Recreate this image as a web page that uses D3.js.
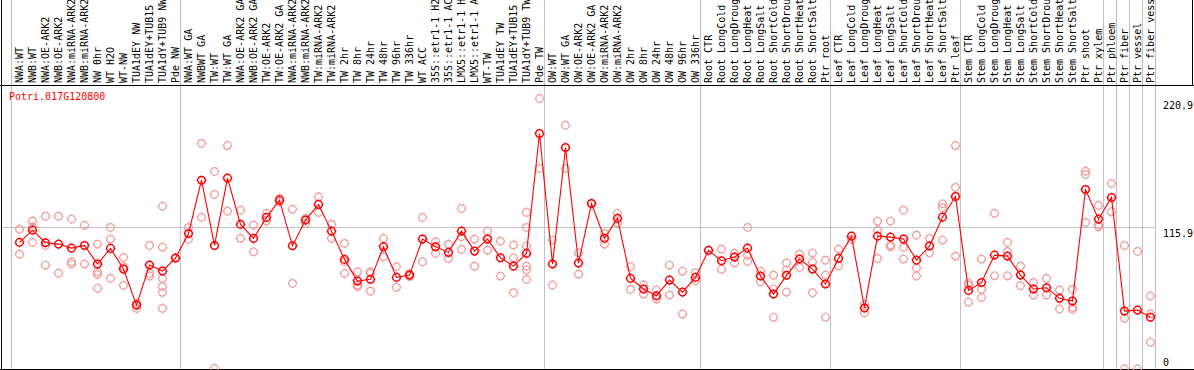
<!DOCTYPE html>
<html><head><meta charset="utf-8">
<script src="https://cdn.jsdelivr.net/npm/d3@7"></script>
<style>
html,body{margin:0;padding:0;background:#fff;}
svg{display:block;}
text{font-family:"DejaVu Sans Mono",monospace;font-size:10px;}
</style></head>
<body>
<script>
const title = "Potri.017G120800";
const labels = [
"NWA:WT","NWB:WT","NWA:OE-ARK2","NWB:OE-ARK2","NWA:miRNA-ARK2","NWB:miRNA-ARK2","NW 0hr","WT H2O","WT-NW","TUA1dEY NW","TUA1dEY+TUB15 NW","TUA1dY+TUB9 NW","Pde NW",
"NWA:WT GA","NWBWT GA","TW:WT","TW:WT GA","NWA:OE-ARK2 GA","NWB:OE-ARK2 GA","TW:OE-ARK2","TW:OE-ARK2 GA","NWA:miRNA-ARK2 GA","NWB:miRNA-ARK2 GA","TW:miRNA-ARK2","TW:miRNA-ARK2 GA","TW 2hr","TW 8hr","TW 24hr","TW 48hr","TW 96hr","TW 336hr","WT ACC","35S::etr1-1 H2O","35S::etr1-1 ACC","LMX5::etr1-1 H2O","LMX5::etr1-1 ACC","WT-TW","TUA1dEY TW","TUA1dEY+TUB15 TW","TUA1dY+TUB9 TW","Pde TW",
"OW:WT","OW:WT GA","OW:OE-ARK2","OW:OE-ARK2 GA","OW:miRNA-ARK2","OW:miRNA-ARK2 GA","OW 2hr","OW 8hr","OW 24hr","OW 48hr","OW 96hr","OW 336hr",
"Root CTR","Root LongCold","Root LongDrought","Root LongHeat","Root LongSalt","Root ShortCold","Root ShortDrought","Root ShortHeat","Root ShortSalt","Ptr root",
"Leaf CTR","Leaf LongCold","Leaf LongDrought","Leaf LongHeat","Leaf LongSalt","Leaf ShortCold","Leaf ShortDrought","Leaf ShortHeat","Leaf ShortSalt","Ptr leaf",
"Stem CTR","Stem LongCold","Stem LongDrought","Stem LongHeat","Stem LongSalt","Stem ShortCold","Stem ShortDrought","Stem ShortHeat","Stem ShortSalt","Ptr shoot","Ptr xylem",
"Ptr phloem","Ptr fiber","Ptr vessel","Ptr fiber vessel"];
const groupSizes = [13,28,12,10,10,11,1,1,1,1];
const means = [
103.4,113.4,103.1,102.0,98.7,100.9,85.7,98.5,81.6,52.2,84.9,80.0,90.6,
110.7,154.2,100.9,155.9,118.1,106.7,123.8,137.9,100.6,121.6,134.4,112.6,89.5,71.8,73.2,99.8,74.8,76.7,106.1,99.8,95.2,112.6,96.3,106.1,90.8,84.0,94.4,192.3,
85.7,180.9,86.5,135.2,106.7,123.0,74.0,65.3,59.8,72.6,62.8,74.8,
96.9,88.4,91.4,98.7,75.9,61.2,76.5,89.8,81.6,69.4,
90.3,108.5,49.8,108.5,107.7,106.1,88.9,100.4,124.0,140.9,
64.2,70.7,93.0,92.2,76.7,65.3,66.3,57.7,55.5,146.6,122.4,
140.1,47.3,48.1,42.2];
const replicates = [
[114.2,93.8],[120.8,116.1,103.4],[124.8,100.9,84.9],[124.8,78.3],[122.4,87.6,85.7],[117.5,85.7],[102.0,79.4,77.3,65.9],[115.6,106.1,74.0],[91.1,83.5,68.3],[53.6,49.5],[100.9,78.0,75.9],[133.0,99.6,74.0,67.2,62.6,49.5],[90.6],
[115.6,105.8],[184.2,123.8],[161.3,142.6,0.5],[182.5,128.9],[129.7,106.7],[117.5,95.7],[127.1,120.8],[139.3,136.5],[130.6,69.9],[123.0,118.9],[140.6,127.9],[118.1,106.7],[102.5,87.6,78.1],[79.4,68.5,67.2],[79.4,78.1,63.6],[106.7,91.6],[83.5,66.7],[78.0,75.5],[123.8,87.6],[103.9,94.4],[102.0,90.3],[131.1,108.0,97.7],[106.1,84.0],[112.6,97.1],[104.4,75.9],[101.2,90.8,62.3],[127.9,115.6,100.6,84.0,80.8,73.2],[220.9,163.8],
[105.3,68.5],[199.1,163.8],[94.9,77.5],[135.2],[110.7,102.0],[127.1,119.4],[83.5,65.0],[68.5,61.2],[64.5,57.1],[84.9,60.4],[80.0,44.9],[78.6,72.1],
[96.9],[97.9,81.4],[94.4,86.7],[115.6,93.0,87.9],[80.0,71.2],[76.7,65.3,42.2],[86.7,80.8,62.8],[93.8,83.0],[94.7,87.3,62.3],[88.9,76.7,42.2],
[97.9,84.3],[105.8],[53.0,45.9],[120.8,113.4,90.3],[120.8,101.2,99.8],[129.7,99.3,89.8],[109.3,82.7,75.9],[106.7,94.9],[134.9,131.9,105.3],[182.5,148.3,92.2],
[70.4,68.5,54.7],[89.8,65.0,58.5],[127.1,76.1],[103.4,96.0,76.1],[84.0,68.0],[70.7,60.4],[74.0,60.4],[64.5,49.0],[65.0,50.3,48.7],[161.6,158.9,119.7],[133.6,117.8,116.1],
[151.5,128.4],[100.9,41.4,0],[96.0,0],[59.6,44.9,21.8]];
const yTicks = [0, 115.9, 220.9];
const gridValues = [115.9];

const W = 1194, H = 370;
const svg = d3.select("body").append("svg").attr("width", W).attr("height", H);

const idx = d3.range(labels.length);
const x = d3.scaleBand().domain(idx).range([11, 11 + 13 * labels.length]).padding(0);
const y = d3.scaleLinear().domain([0, 220.9]).range([369, 98.5]);
const px = i => x(i) + 8.5;
const right = x.range()[1];

// group separators
const bounds = [0];
groupSizes.forEach(s => bounds.push(bounds[bounds.length - 1] + s));
svg.append("g").selectAll("line").data(bounds).join("line")
  .attr("x1", b => (b < labels.length ? x(b) : right) + 0.5)
  .attr("x2", b => (b < labels.length ? x(b) : right) + 0.5)
  .attr("y1", 0).attr("y2", 369)
  .attr("stroke", "#c0c0c0").attr("stroke-width", 1);

// horizontal grid
svg.append("g").selectAll("line").data(gridValues).join("line")
  .attr("x1", 1).attr("x2", right)
  .attr("y1", v => Math.round(y(v)) + 0.5).attr("y2", v => Math.round(y(v)) + 0.5)
  .attr("stroke", "#c0c0c0");

// frame
svg.append("line").attr("x1", 1.5).attr("x2", 1.5).attr("y1", 0).attr("y2", 370).attr("stroke", "#000");
svg.append("line").attr("x1", 0).attr("x2", W).attr("y1", 85.5).attr("y2", 85.5).attr("stroke", "#000");
svg.append("line").attr("x1", 0).attr("x2", W).attr("y1", 369.5).attr("y2", 369.5).attr("stroke", "#000");
svg.append("line").attr("x1", 1192.5).attr("x2", 1192.5).attr("y1", 0).attr("y2", 85).attr("stroke", "#000");

// category labels (long ones run past the top edge, as in the reference)
svg.append("g").selectAll("text").data(idx).join("text")
  .attr("transform", i => `translate(${x(i) + 12},83) rotate(-90)`)
  .attr("fill", "#000")
  .text(i => labels[i]);

// title
svg.append("text").attr("x", 9).attr("y", 100).attr("fill", "#ff0000").text(title);

// y tick labels (right)
svg.append("g").selectAll("text").data(yTicks).join("text")
  .attr("x", 1163)
  .attr("y", v => v === 0 ? y(v) - 3.3 : y(v) + 10)
  .attr("fill", "#000")
  .text(v => v === 0 ? "0" : d3.format(".1f")(v));

// marker shape: circle with tiny ticks
function marker(r) {
  const p = d3.path();
  p.moveTo(r, 0); p.arc(0, 0, r, 0, 2 * Math.PI);
  p.moveTo(0, -r - 1); p.lineTo(0, -r);
  p.moveTo(0, r); p.lineTo(0, r + 1);
  p.moveTo(-r - 1, 0); p.lineTo(-r, 0);
  p.moveTo(r, 0); p.lineTo(r + 1, 0);
  return p.toString();
}

// replicate points
const repData = [];
replicates.forEach((arr, i) => arr.forEach(v => repData.push({ i, v })));
svg.append("g").selectAll("path").data(repData).join("path")
  .attr("transform", d => `translate(${px(d.i)},${y(d.v)})`)
  .attr("d", marker(3.8))
  .attr("fill", "none").attr("stroke", "#f09a9a").attr("stroke-width", 1.2);

// mean line
const line = d3.line().x((d, i) => px(i)).y(d => y(d));
svg.append("path").datum(means).attr("d", line)
  .attr("fill", "none").attr("stroke", "#ff0000").attr("stroke-width", 1.1);

// mean points
svg.append("g").selectAll("path").data(means).join("path")
  .attr("transform", (d, i) => `translate(${px(i)},${y(d)})`)
  .attr("d", marker(3.8))
  .attr("fill", "none").attr("stroke", "#ff0000").attr("stroke-width", 1.5);
</script>
</body></html>
